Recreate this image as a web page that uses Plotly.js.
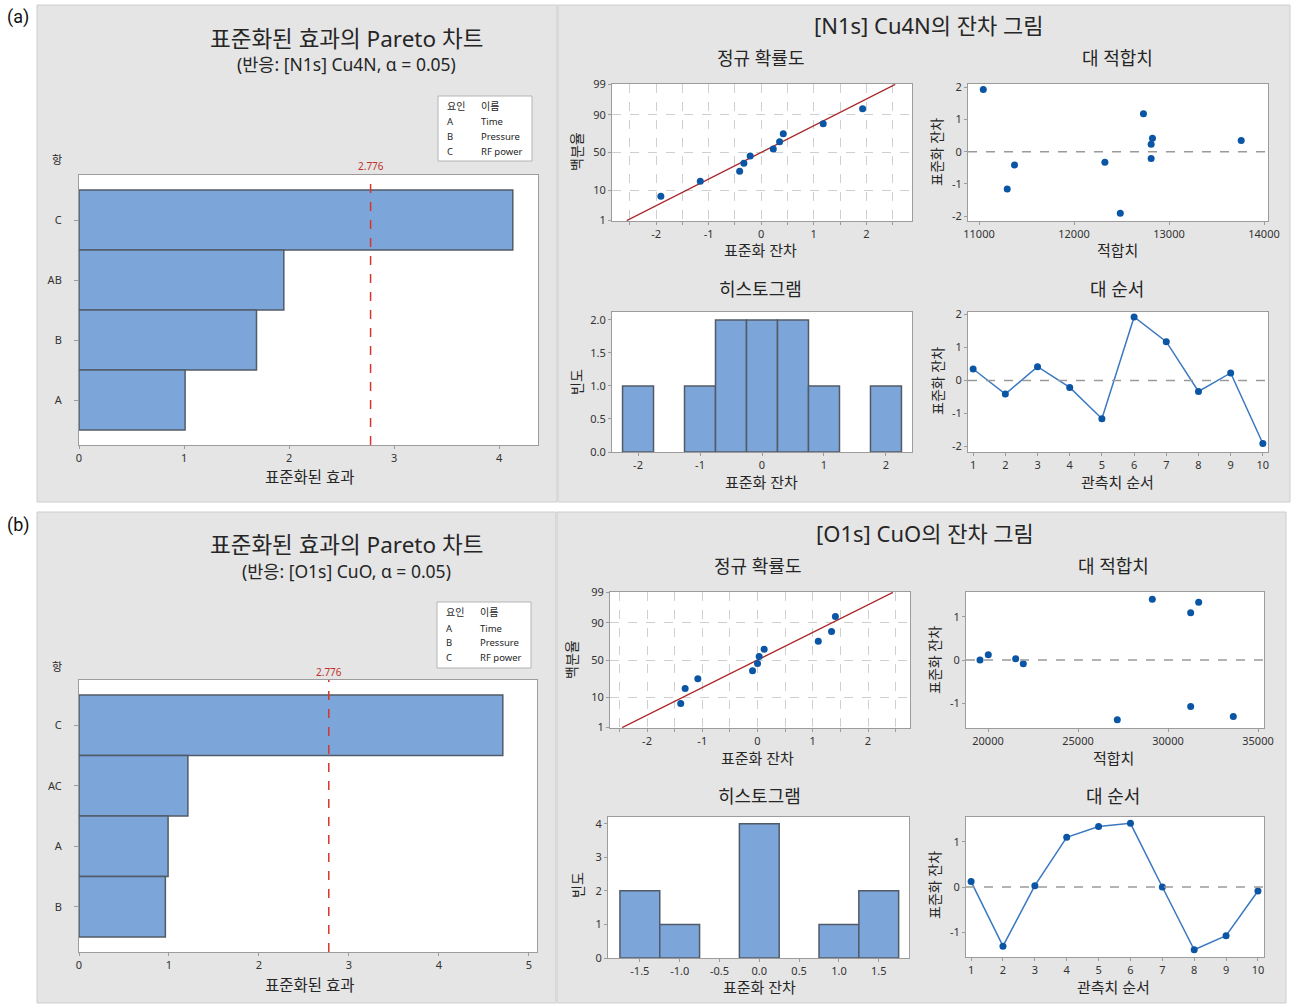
<!DOCTYPE html>
<html>
<head>
<meta charset="utf-8">
<script src="https://cdn.plot.ly/plotly-3.0.1.min.js"></script>
<style>
  html, body { margin: 0; padding: 0; background: #ffffff; }
  #fig { width: 1292px; height: 1005px; }
</style>
</head>
<body>
<div id="fig"></div>
<script>
// ---- Pareto chart of standardized effects ----
const termsA   = ['C', 'AB', 'B', 'A'];
const effectsA = [4.13, 1.95, 1.69, 1.01];
const termsB   = ['C', 'AC', 'A', 'B'];
const effectsB = [4.71, 1.21, 0.99, 0.96];
const critT    = 2.776;
const factorCodes = ['A', 'B', 'C'];
const factorNames = ['Time', 'Pressure', 'RF power'];

// ---- residuals by observation order ----
const obsOrder = [1, 2, 3, 4, 5, 6, 7, 8, 9, 10];
const residA = [0.35, -0.41, 0.42, -0.21, -1.16, 1.93, 1.18, -0.33, 0.23, -1.91];
const fitsA  = [13760, 11374, 12826, 12812, 11297, 11045, 12731, 12325, 12812, 12487];
const residB = [0.12, -1.31, 0.03, 1.10, 1.34, 1.41, 0.00, -1.39, -1.08, -0.09];
const fitsB  = [20017, 33628, 21537, 31259, 31704, 29128, 19556, 27183, 31259, 21961];

// ---- normal probability plot ----
const probPct    = [6.7, 16.3, 26.0, 35.6, 45.2, 54.8, 64.4, 74.0, 83.7, 93.3];
const fitLineXA  = [-2.56, 2.55];
const fitLineXB  = [-2.45, 2.45];
const fitLinePct = [1, 99];
const probTicks  = [1, 10, 50, 90, 99];
const probGridX  = [-2.5, -2, -1.5, -1, -0.5, 0, 0.5, 1, 1.5, 2, 2.5];
const probGridXText = ['', '-2', '', '-1', '', '0', '', '1', '', '2', ''];

// ---- tick positions for the residual axes ----
const residTicksA = [-2, -1, 0, 1, 2];
const residTicksB = [-1, 0, 1];
const histXTicksA = [-2, -1, 0, 1, 2];
const histXTicksB = [-1.5, -1.0, -0.5, 0.0, 0.5, 1.0, 1.5];
const histYTicksA = [0, 0.5, 1.0, 1.5, 2.0];
const histYTicksB = [0, 1, 2, 3, 4];

// inverse of the standard normal CDF (Acklam's rational approximation)
function normInv(p) {
  const a = [-3.969683028665376e+01, 2.209460984245205e+02, -2.759285104469687e+02, 1.383577518672690e+02, -3.066479806614716e+01, 2.506628277459239e+00];
  const b = [-5.447609879822406e+01, 1.615858368580409e+02, -1.556989798598866e+02, 6.680131188771972e+01, -1.328068155288572e+01];
  const c = [-7.784894002430293e-03, -3.223964580411365e-01, -2.400758277161838e+00, -2.549732539343734e+00, 4.374664141464968e+00, 2.938163982698783e+00];
  const d = [7.784695709041462e-03, 3.224671290700398e-01, 2.445134137142996e+00, 3.754408661907416e+00];
  const pl = 0.02425, ph = 1 - pl;
  let q, r;
  if (p < pl) {
    q = Math.sqrt(-2 * Math.log(p));
    return (((((c[0]*q+c[1])*q+c[2])*q+c[3])*q+c[4])*q+c[5]) / ((((d[0]*q+d[1])*q+d[2])*q+d[3])*q+1);
  }
  if (p > ph) {
    q = Math.sqrt(-2 * Math.log(1 - p));
    return -(((((c[0]*q+c[1])*q+c[2])*q+c[3])*q+c[4])*q+c[5]) / ((((d[0]*q+d[1])*q+d[2])*q+d[3])*q+1);
  }
  q = p - 0.5; r = q * q;
  return (((((a[0]*r+a[1])*r+a[2])*r+a[3])*r+a[4])*r+a[5])*q / (((((b[0]*r+b[1])*r+b[2])*r+b[3])*r+b[4])*r+1);
}
const pctToZ = arr => arr.map(v => normInv(v / 100));
// tick labels with a plain hyphen for negatives
const arrTicks = (vals, digits) => ({
  tickmode: 'array', tickvals: vals,
  ticktext: vals.map(v => digits ? v.toFixed(digits) : String(v))
});

// ---- page geometry (pixels) ----
const W = 1292, H = 1005;
const FONT = "'Noto Sans', 'Noto Sans CJK KR', sans-serif";
const BAR_FILL = '#7ca5d9', BAR_EDGE = '#515b68';
const DOT = '#0b55a5', LINE_BLUE = '#3a78c0';
const px = x => x / W, py = y => 1 - y / H;
const dom = b => ({ x: [b[0] / W, b[1] / W], y: [1 - b[3] / H, 1 - b[2] / H] });

const layout = {
  width: W, height: H,
  margin: { l: 0, r: 0, t: 0, b: 0 },
  paper_bgcolor: '#ffffff',
  plot_bgcolor: 'rgba(0,0,0,0)',
  showlegend: false,
  bargap: 0,
  font: { family: FONT, color: '#333333' },
  shapes: [],
  annotations: []
};

const baseAx = {
  showline: true, mirror: true, linecolor: '#9c9c9c', linewidth: 1,
  ticks: 'outside', ticklen: 3, tickcolor: '#9c9c9c', tickwidth: 1,
  tickfont: { size: 11, color: '#333333', family: FONT },
  showgrid: false, zeroline: false, fixedrange: true
};

const boxes = [];
function addAxes(k, box, xOpt, yOpt) {
  const d = dom(box);
  const xn = k === 1 ? 'xaxis' : 'xaxis' + k, yn = k === 1 ? 'yaxis' : 'yaxis' + k;
  const xid = k === 1 ? 'x' : 'x' + k, yid = k === 1 ? 'y' : 'y' + k;
  layout[xn] = Object.assign({}, baseAx, { domain: d.x, anchor: yid }, xOpt);
  layout[yn] = Object.assign({}, baseAx, { domain: d.y, anchor: xid }, yOpt);
  boxes.push(box);
  return [xid, yid];
}

function txt(x, y, text, size, extra) {
  layout.annotations.push(Object.assign({
    xref: 'paper', yref: 'paper', x: px(x), y: py(y), text: text,
    showarrow: false, xanchor: 'center', yanchor: 'middle',
    font: { family: FONT, size: size, color: '#262626' }
  }, extra || {}));
}

const traces = [];

// ---- gray panels ----
const panels = [
  [37, 5, 557, 502], [558, 5, 1290, 502],
  [37, 512, 556, 1003], [557, 512, 1286, 1003]
];
panels.forEach(p => layout.shapes.push({
  type: 'rect', xref: 'paper', yref: 'paper', layer: 'below',
  x0: px(p[0]), x1: px(p[2]), y0: py(p[3]), y1: py(p[1]),
  fillcolor: '#e5e5e5', line: { color: '#cdcdcd', width: 1 }
}));

// ---- one full block: Pareto + four residual plots ----
function drawBlock(o) {
  // Pareto chart
  const [px1, py1] = addAxes(o.k, o.paretoBox,
    { range: o.paretoRange, dtick: 1, tick0: 0 },
    { type: 'category', range: [3.75, -0.75], ticklen: 4, ticklabelstandoff: 10 });
  traces.push({
    type: 'bar', orientation: 'h', x: o.effects, y: o.terms, width: 1,
    xaxis: px1, yaxis: py1,
    marker: { color: BAR_FILL, line: { color: BAR_EDGE, width: 1.5 } },
    hoverinfo: 'skip'
  });
  layout.shapes.push({
    type: 'line', xref: px1, yref: py1 + ' domain', x0: critT, x1: critT, y0: 0, y1: 1,
    line: { color: '#d8342c', width: 1.5, dash: 'dash' }
  });
  layout.annotations.push({
    xref: px1, yref: 'paper', x: critT, y: py(o.critLabelY), text: critT.toFixed(3),
    showarrow: false, xanchor: 'center', yanchor: 'middle',
    font: { family: FONT, size: 10, color: '#c0302a' }
  });

  // Pareto titles, labels, factor key
  const t = o.titleY;
  txt(346, t - 1.5, '표준화된 효과의 Pareto 차트', 22.5);
  txt(346, t + 24.5, o.subtitle, 17.5);
  txt(57, o.termLabelY, '항', 11);
  txt(310, o.paretoXTitleY, '표준화된 효과', 15.5);
  const lb = o.keyBox;
  layout.shapes.push({
    type: 'rect', xref: 'paper', yref: 'paper',
    x0: px(lb[0]), x1: px(lb[2]), y0: py(lb[3]), y1: py(lb[1]),
    fillcolor: '#ffffff', line: { color: '#b4b4b4', width: 1 }
  });
  const rowY = [lb[1] + 10, lb[1] + 26, lb[1] + 40.5, lb[1] + 55.5];
  txt(lb[0] + 7, rowY[0], '요인', 10, { xanchor: 'left' });
  txt(lb[0] + 41, rowY[0], '이름', 10, { xanchor: 'left' });
  factorCodes.forEach((c, i) => {
    txt(lb[0] + 7, rowY[i + 1], c, 9.5, { xanchor: 'left' });
    txt(lb[0] + 41, rowY[i + 1], factorNames[i], 9.5, { xanchor: 'left' });
  });

  // residual-plot heading
  txt(o.resTitle[0], o.resTitle[1], o.resTitleText, 22);

  // normal probability plot
  const zTicks = pctToZ(probTicks);
  const [nx, ny] = addAxes(o.k + 1, o.normBox,
    { range: o.normRange, tickmode: 'array', tickvals: probGridX, ticktext: probGridXText,
      showgrid: true, gridcolor: '#cfcfcf', griddash: 'dash', gridwidth: 1 },
    { range: [-2.34, 2.34], tickmode: 'array', tickvals: zTicks, ticktext: probTicks.map(String),
      showgrid: true, gridcolor: '#cfcfcf', griddash: 'dash', gridwidth: 1 });
  traces.push({
    type: 'scatter', mode: 'lines', x: o.fitLineX, y: pctToZ(fitLinePct),
    xaxis: nx, yaxis: ny, line: { color: '#a8262a', width: 1.3 }, hoverinfo: 'skip'
  });
  traces.push({
    type: 'scatter', mode: 'markers', x: [...o.resid].sort((a, b) => a - b), y: pctToZ(probPct),
    xaxis: nx, yaxis: ny, marker: { color: DOT, size: 7 }, hoverinfo: 'skip'
  });

  // versus fits
  const [fx, fy] = addAxes(o.k + 2, o.fitsBox,
    { range: o.fitsRange, dtick: o.fitsDtick, tick0: 0, tickformat: 'd' },
    Object.assign({ range: o.residRangeF }, arrTicks(o.residTicks)));
  traces.push({
    type: 'scatter', mode: 'markers', x: o.fits, y: o.resid,
    xaxis: fx, yaxis: fy, marker: { color: DOT, size: 7 }, hoverinfo: 'skip'
  });
  layout.shapes.push({
    type: 'line', xref: fx + ' domain', yref: fy, x0: 0, x1: 1, y0: 0, y1: 0,
    line: { color: '#9a9a9a', width: 1.5, dash: 'dash' }
  });

  // histogram
  const [hx, hy] = addAxes(o.k + 3, o.histBox,
    Object.assign({ range: o.histRange }, arrTicks(o.histXTicks, o.histXDigits)),
    Object.assign({ range: o.histYRange }, arrTicks(o.histYTicks, o.histYDigits)));
  traces.push({
    type: 'histogram', x: o.resid, xaxis: hx, yaxis: hy,
    xbins: o.bins, autobinx: false,
    marker: { color: BAR_FILL, line: { color: BAR_EDGE, width: 1.5 } }, hoverinfo: 'skip'
  });

  // versus order
  const [ox, oy] = addAxes(o.k + 4, o.orderBox,
    { range: o.orderRange, dtick: 1, tick0: 0 },
    Object.assign({ range: o.residRangeO }, arrTicks(o.residTicks)));
  traces.push({
    type: 'scatter', mode: 'lines+markers', x: obsOrder, y: o.resid,
    xaxis: ox, yaxis: oy, line: { color: LINE_BLUE, width: 1.5 },
    marker: { color: DOT, size: 7 }, hoverinfo: 'skip'
  });
  layout.shapes.push({
    type: 'line', xref: ox + ' domain', yref: oy, x0: 0, x1: 1, y0: 0, y1: 0,
    line: { color: '#9a9a9a', width: 1.5, dash: 'dash' }
  });

  // subplot titles and axis titles
  const L = o.labels;
  txt(L.normT[0], L.normT[1], '정규 확률도', 18);
  txt(L.fitsT[0], L.fitsT[1], '대 적합치', 18);
  txt(L.histT[0], L.histT[1], '히스토그램', 18);
  txt(L.ordT[0], L.ordT[1], '대 순서', 18);
  txt(L.normX[0], L.normX[1], '표준화 잔차', 15);
  txt(L.fitsX[0], L.fitsX[1], '적합치', 15);
  txt(L.histX[0], L.histX[1], '표준화 잔차', 15);
  txt(L.ordX[0], L.ordX[1], '관측치 순서', 15);
  txt(L.normY[0], L.normY[1], '백분율', 14, { textangle: -90 });
  txt(L.fitsY[0], L.fitsY[1], '표준화 잔차', 14, { textangle: -90 });
  txt(L.histY[0], L.histY[1], '빈도', 14, { textangle: -90 });
  txt(L.ordY[0], L.ordY[1], '표준화 잔차', 14, { textangle: -90 });
}

drawBlock({
  k: 1, terms: termsA, effects: effectsA, resid: residA, fits: fitsA,
  paretoBox: [79, 538, 175, 445], paretoRange: [0, 4.37],
  critLabelY: 166, titleY: 40, subtitle: '(반응: [N1s] Cu4N, α = 0.05)',
  termLabelY: 160, paretoXTitleY: 477, keyBox: [438, 96, 532, 161],
  resTitle: [928, 25], resTitleText: '[N1s] Cu4N의 잔차 그림',
  normBox: [612, 912, 84, 221], normRange: [-2.84, 2.87], fitLineX: fitLineXA,
  fitsBox: [968, 1268, 84, 221], fitsRange: [10884, 14042], fitsDtick: 1000, residRangeF: [-2.15, 2.1],
  residTicks: residTicksA,
  histBox: [612, 912, 312, 452], histRange: [-2.42, 2.42], histYRange: [0, 2.12],
  histXTicks: histXTicksA, histXDigits: 0, histYTicks: histYTicksA, histYDigits: 1,
  bins: { start: -2.25, end: 2.25, size: 0.5 },
  orderBox: [968, 1268, 312, 452], orderRange: [0.84, 10.16], residRangeO: [-2.17, 2.08],
  labels: {
    normT: [760, 58], fitsT: [1117, 58], histT: [760, 289], ordT: [1117, 289],
    normX: [760, 250], fitsX: [1117, 250], histX: [761, 482], ordX: [1117, 482],
    normY: [577, 152], fitsY: [937, 152], histY: [576, 382], ordY: [937, 381]
  }
});

drawBlock({
  k: 6, terms: termsB, effects: effectsB, resid: residB, fits: fitsB,
  paretoBox: [79, 537, 680, 952], paretoRange: [0, 5.09],
  critLabelY: 672, titleY: 546, subtitle: '(반응: [O1s] CuO, α = 0.05)',
  termLabelY: 666, paretoXTitleY: 985, keyBox: [437, 602, 531, 668],
  resTitle: [925, 533], resTitleText: '[O1s] CuO의 잔차 그림',
  normBox: [610, 910, 592, 728], normRange: [-2.67, 2.76], fitLineX: fitLineXB,
  fitsBox: [966, 1264, 592, 728], fitsRange: [18778, 35333], fitsDtick: 5000, residRangeF: [-1.58, 1.58],
  residTicks: residTicksB,
  histBox: [608, 909, 817, 958], histRange: [-1.9, 1.88], histYRange: [0, 4.2],
  histXTicks: histXTicksB, histXDigits: 1, histYTicks: histYTicksB, histYDigits: 0,
  bins: { start: -1.75, end: 1.75, size: 0.5 },
  orderBox: [966, 1264, 817, 957], orderRange: [0.84, 10.19], residRangeO: [-1.55, 1.55],
  labels: {
    normT: [757, 566], fitsT: [1113, 566], histT: [759, 796], ordT: [1113, 796],
    normX: [757, 758], fitsX: [1113, 758], histX: [759, 987], ordX: [1113, 987],
    normY: [571, 660], fitsY: [934, 660], histY: [577, 885], ordY: [934, 885]
  }
});

// white plotting areas sit above the gray panels
boxes.forEach(b => layout.shapes.splice(4, 0, {
  type: 'rect', xref: 'paper', yref: 'paper', layer: 'below',
  x0: px(b[0]), x1: px(b[1]), y0: py(b[3]), y1: py(b[2]),
  fillcolor: '#ffffff', line: { width: 0 }
}));

// panel letters
txt(18, 17, '(a)', 18, { font: { family: 'Roboto, sans-serif', size: 18, color: '#111111' } });
txt(18, 525, '(b)', 18, { font: { family: 'Roboto, sans-serif', size: 18, color: '#111111' } });

Plotly.newPlot('fig', traces, layout, { staticPlot: true, displayModeBar: false });
</script>
</body>
</html>
